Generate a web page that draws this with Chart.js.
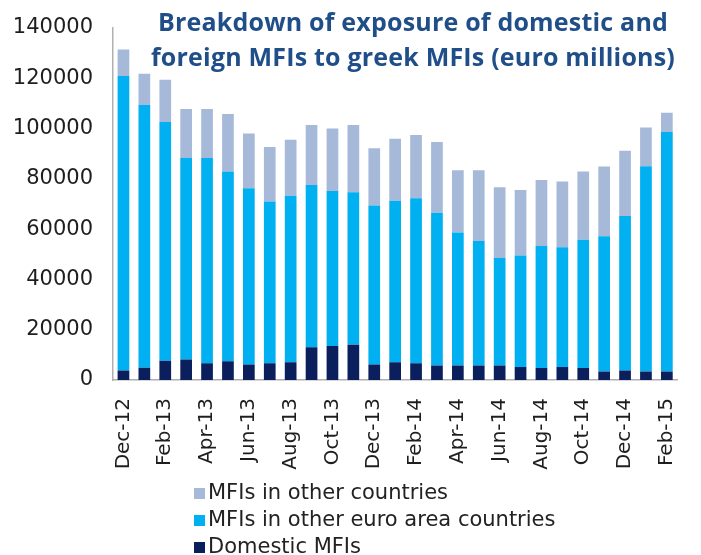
<!DOCTYPE html>
<html>
<head>
<meta charset="utf-8">
<script src="https://cdn.jsdelivr.net/npm/chart.js@4"></script>
<style>
  body { margin: 0; background: #fff; }
  #wrap { position: relative; width: 701px; height: 555px; }
  #title {
    position: absolute; left: 133px; top: 4px; width: 560px;
    text-align: center; font: bold 25px "Open Sans", sans-serif;
    line-height: 35px; color: #1F4E89; letter-spacing: 0.2px;
  }
  #legend {
    position: absolute; left: 194px; top: 479px;
    font: 21px "DejaVu Sans", sans-serif; color: #222;
  }
  #legend div { height: 27px; line-height: 27px; white-space: nowrap; }
  #legend span.box { display: inline-block; width: 11px; height: 11px; margin-right: 3px; }
</style>
</head>
<body>
<div id="wrap">
  <canvas id="exposureChart" width="701" height="555"></canvas>
  <div id="title">Breakdown of exposure of domestic and<br>foreign MFIs to greek MFIs (euro millions)</div>
  <div id="legend"></div>
</div>
<script>
const months = ['Dec-12', 'Jan-13', 'Feb-13', 'Mar-13', 'Apr-13', 'May-13', 'Jun-13', 'Jul-13', 'Aug-13',
  'Sep-13', 'Oct-13', 'Nov-13', 'Dec-13', 'Jan-14', 'Feb-14', 'Mar-14', 'Apr-14', 'May-14', 'Jun-14',
  'Jul-14', 'Aug-14', 'Sep-14', 'Oct-14', 'Nov-14', 'Dec-14', 'Jan-15', 'Feb-15'];

// euro millions
const domesticMFIs = [3800, 4900, 7700, 8200, 6700, 7500, 6200, 6700, 7100, 13000, 13500, 14000, 6200, 7100,
  6700, 5800, 5800, 5800, 5800, 5200, 4800, 5200, 4800, 3400, 3800, 3400, 3400];
const euroAreaMFIs = [117100, 104500, 94900, 80100, 81600, 75400, 70100, 64300, 66200, 64600, 61700, 60700,
  63200, 64200, 65600, 60700, 52900, 49500, 42700, 44300, 48500, 47600, 51000, 53800, 61400, 81600, 95200];
const otherCountriesMFIs = [10500, 12400, 16800, 19500, 19500, 22900, 21700, 21700, 22300, 23800, 24800, 26700,
  22800, 24700, 25100, 28200, 24700, 28100, 28200, 26100, 26200, 26100, 27100, 27700, 26000, 15400, 7700];

const yTicks = [0, 20000, 40000, 60000, 80000, 100000, 120000, 140000];

const chart = new Chart(document.getElementById('exposureChart'), {
  type: 'bar',
  data: {
    labels: months,
    datasets: [
      { label: 'Domestic MFIs', data: domesticMFIs, backgroundColor: '#0B1F5C' },
      { label: 'MFIs in other euro area countries', data: euroAreaMFIs, backgroundColor: '#00B0F0' },
      { label: 'MFIs in other countries', data: otherCountriesMFIs, backgroundColor: '#A7B9D9' }
    ]
  },
  options: {
    responsive: false,
    animation: false,
    barPercentage: 0.56,
    categoryPercentage: 1,
    layout: { padding: { top: 28, right: 8, bottom: 0, left: 0 } },
    plugins: { legend: { display: false }, title: { display: false }, tooltip: { enabled: false } },
    scales: {
      x: {
        stacked: true,
        grid: { display: false },
        border: { display: true, color: '#B0B0B0', width: 1.5 },
        ticks: {
          autoSkip: false, minRotation: 90, maxRotation: 90, padding: 10,
          color: '#1E1E1E', font: { family: 'DejaVu Sans', size: 20 },
          callback: (v, i) => (i % 2 === 0 ? months[i] : '')
        },
        afterFit: (scale) => { scale.height = 175; }
      },
      y: {
        stacked: true,
        min: 0, max: 140000,
        grid: { display: false },
        border: { display: true, color: '#B0B0B0', width: 1.5 },
        afterBuildTicks: (scale) => { scale.ticks = yTicks.map(v => ({ value: v })); },
        ticks: {
          color: '#1E1E1E', font: { family: 'DejaVu Sans', size: 21 }, padding: 12,
          callback: (v) => String(v)
        },
        afterFit: (scale) => { scale.width = 113; }
      }
    }
  }
});

// legend listed top-down: last stacked series first
const legendBox = document.getElementById('legend');
chart.data.datasets.slice().reverse().forEach(ds => {
  const row = document.createElement('div');
  const box = document.createElement('span');
  box.className = 'box';
  box.style.background = ds.backgroundColor;
  row.appendChild(box);
  row.appendChild(document.createTextNode(ds.label));
  legendBox.appendChild(row);
});
</script>
</body>
</html>
